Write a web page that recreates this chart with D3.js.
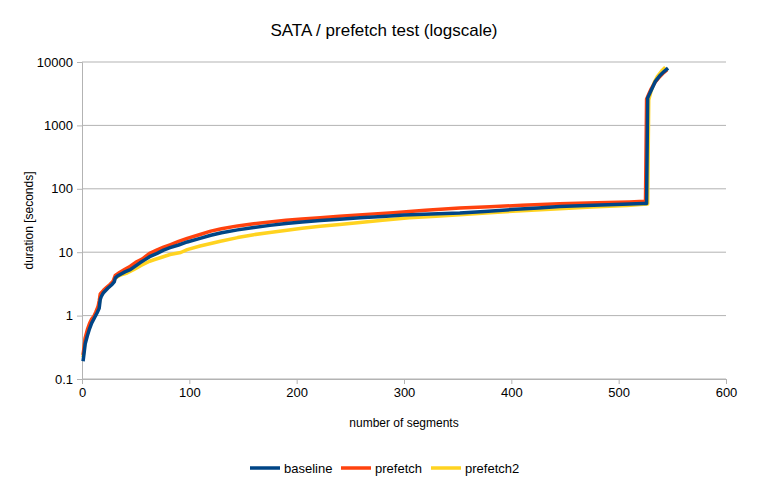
<!DOCTYPE html>
<html>
<head>
<meta charset="utf-8">
<script src="https://cdn.jsdelivr.net/npm/d3@7"></script>
<style>
  body { margin: 0; background: #fff; }
  svg { font-family: "Liberation Sans", Arial, sans-serif; }
</style>
</head>
<body>
<svg width="768" height="480"></svg>
<script>
// values (sorted durations per segment)
var baselineX = [1,3,5,7,9,12,14,16,17,18,20,24,28,30,31,33,36,40,45,50,54,58,63,70,76,82,90,98,110,120,130,145,160,175,190,205,222,240,259,280,300,325,352,375,400,425,445,470,490,510,523,526,527,528,530,534,538,542,546];
var baselineY = [0.19,0.36,0.48,0.62,0.76,0.95,1.1,1.3,1.8,2.0,2.3,2.7,3.1,3.4,3.9,4.2,4.5,4.9,5.3,6.1,6.8,7.5,8.5,9.6,10.8,11.8,13.0,14.5,16.5,18.5,20.3,22.5,24.5,26.5,28.3,30,31.5,33.2,34.8,36.5,38.5,40,41.6,44,47,50,52.8,54.5,56,57.5,58.5,58.5,2700,2950,3500,4900,6000,7000,8000];

var prefetchX = [1,3,5,7,9,11,13,15,16,17,20,23,26,29,31,35,40,45,50,56,63,70,76,82,90,98,110,120,130,145,160,175,190,205,222,240,265,290,320,352,380,410,445,480,510,524,525,526,528,530,534,538,542,545];
var prefetchY = [0.24,0.45,0.6,0.75,0.88,0.97,1.15,1.4,1.7,2.2,2.5,2.8,3.1,3.5,4.3,4.8,5.4,6.0,6.9,7.8,9.6,10.9,12,13.1,14.8,16.5,19,21.5,23.5,26,28,30,32,33.5,35,37,39.5,42,46,49.7,52,55,58,60,62,63.5,63.5,2600,3100,3700,4800,5800,6800,7500];

var prefetch2X = [1,3,5,7,9,12,14,16,17,20,24,28,31,35,42,48,55,63,67,75,82,92,98,110,129,145,160,175,191,205,222,240,259,280,305,330,352,380,410,445,475,508,520,527,528,530,533,536,540,543.5];
var prefetch2Y = [0.22,0.42,0.55,0.7,0.82,1.0,1.2,1.5,2.0,2.4,2.8,3.2,3.9,4.3,4.7,5.3,6.2,7.2,7.6,8.4,9.2,9.9,11,12.5,14.9,17,18.9,20.5,22.2,23.8,25.6,27.3,29.5,32,35,37,39,42,45,48.3,51.5,54.4,56.5,57.5,2500,3400,4700,5900,7200,8300];

var xTicks = [0,100,200,300,400,500,600];
var yTicks = [0.1,1,10,100,1000,10000];

var seriesNames = ["baseline","prefetch","prefetch2"];
var seriesColors = ["#004586","#ff420e","#ffd320"];

var svg = d3.select("svg"),
    margin = {top: 62, right: 42, bottom: 101, left: 82},
    width = 768 - margin.left - margin.right,
    height = 480 - margin.top - margin.bottom;

var g = svg.append("g")
    .attr("transform", "translate(" + margin.left + "," + margin.top + ")");

var x = d3.scaleLinear().domain([0, 600]).range([0, width]),
    y = d3.scaleLog().domain([0.1, 10000]).range([height, 0]);

// gridlines
g.append("g")
  .selectAll("line")
  .data(yTicks)
  .enter().append("line")
    .attr("x1", 0).attr("x2", width)
    .attr("y1", function(d) { return y(d); })
    .attr("y2", function(d) { return y(d); })
    .attr("stroke", "#b3b3b3");

var xAxis = g.append("g")
    .attr("transform", "translate(0," + height + ")")
    .call(d3.axisBottom(x).tickValues(xTicks).tickSize(5).tickPadding(4));
var yAxis = g.append("g")
    .call(d3.axisLeft(y).tickValues(yTicks).tickSize(5).tickPadding(4)
      .tickFormat(function(d) { return d < 1 ? "0.1" : d3.format("d")(d); }));

[xAxis, yAxis].forEach(function(a) {
  a.select(".domain").attr("stroke", "#b3b3b3");
  a.selectAll(".tick line").attr("stroke", "#b3b3b3");
  a.selectAll("text").attr("fill", "#000").style("font-size", "13px")
    .style("font-family", "Liberation Sans, Arial, sans-serif");
});

var series = [
  {xs: baselineX, ys: baselineY},
  {xs: prefetchX, ys: prefetchY},
  {xs: prefetch2X, ys: prefetch2Y}
];

var line = d3.line()
    .x(function(d) { return x(d[0]); })
    .y(function(d) { return y(d[1]); });

// draw prefetch2 first, baseline on top
[2, 1, 0].forEach(function(i) {
  var pts = series[i].xs.map(function(v, j) { return [v, series[i].ys[j]]; });
  g.append("path")
    .datum(pts)
    .attr("fill", "none")
    .attr("stroke", seriesColors[i])
    .attr("stroke-width", 3.5)
    .attr("stroke-linejoin", "round")
    .attr("d", line);
});

// title + axis labels
svg.append("text")
    .attr("x", 384).attr("y", 36)
    .attr("text-anchor", "middle")
    .style("font-size", "17px")
    .text("SATA / prefetch test (logscale)");

svg.append("text")
    .attr("x", margin.left + width / 2).attr("y", 427)
    .attr("text-anchor", "middle")
    .style("font-size", "12px")
    .text("number of segments");

svg.append("text")
    .attr("transform", "translate(33," + (margin.top + height / 2) + ") rotate(-90)")
    .attr("text-anchor", "middle")
    .style("font-size", "12px")
    .text("duration [seconds]");

// legend
var legendX = [250, 341, 431];
var legend = svg.append("g");
seriesNames.forEach(function(name, i) {
  legend.append("line")
    .attr("x1", legendX[i]).attr("x2", legendX[i] + 30)
    .attr("y1", 468).attr("y2", 468)
    .attr("stroke", seriesColors[i])
    .attr("stroke-width", 3.5);
  legend.append("text")
    .attr("x", legendX[i] + 34).attr("y", 472.5)
    .style("font-size", "13px")
    .text(name);
});
</script>
</body>
</html>
